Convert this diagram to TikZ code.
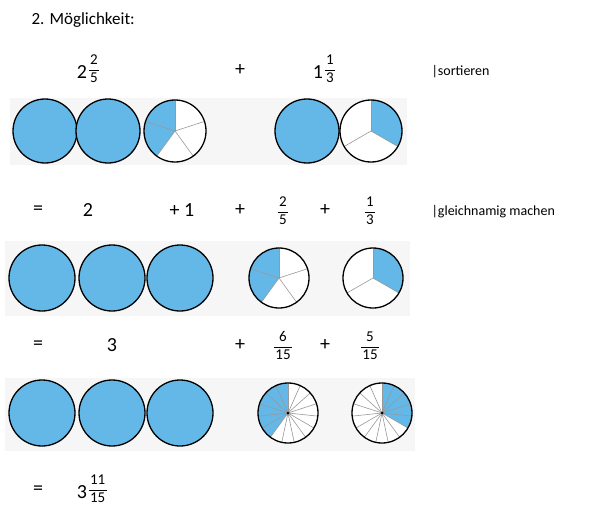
\documentclass[tikz,border=0pt]{standalone}
\usepackage{fontspec}
\setmainfont{Carlito}
\definecolor{pieblue}{HTML}{63B8E8}
\definecolor{band}{HTML}{F6F6F6}
\newcommand{\fullc}[3]{\fill[pieblue] (#1,#2) circle (#3);\draw[line width=1.3pt] (#1,#2) circle (#3);}
\newcommand{\fr}[2]{$\vcenter{\hbox{\setlength{\tabcolsep}{1.5pt}\renewcommand{\arraystretch}{1.05}\begin{tabular}{c}#1\\\hline #2\end{tabular}}}$}
% pie: x y r n k dir(1=visual ccw / left, -1=visual cw / right)
\newcommand{\mypie}[6]{%
  \fill[white] (#1,#2) circle (#3);
  \pgfmathsetmacro{\st}{360/#4}
  \pgfmathsetmacro{\en}{-90-#6*#5*\st}
  \fill[pieblue] (#1,#2) -- ++(-90:#3) arc[start angle=-90,end angle=\en,radius=#3] -- cycle;
  \foreach \i in {1,...,#4}{\draw[gray!80,line width=0.6pt] (#1,#2) -- ++({-90+\i*\st}:#3);}
  \draw[line width=1.3pt] (#1,#2) circle (#3);}
\begin{document}
\begin{tikzpicture}[x=1pt,y=-1pt,
  txt/.style={font=\fontsize{20}{24}\selectfont},
  frs/.style={font=\fontsize{15}{17}\selectfont},
  sm/.style={font=\fontsize{14}{16}\selectfont}]
\useasboundingbox (0,0) rectangle (600,527);
\fill[band] (10,98) rectangle (407,165);
\fill[band] (5,241) rectangle (410,316);
\fill[band] (5,378) rectangle (415,451);
\node[font=\fontsize{17}{20}\selectfont,anchor=west] (title) at (28,20) {2. Möglichkeit:};
% row 1
\node[txt] (a1) at (82,72) {2};
\node[frs,anchor=west] (a1f) at (85,70) {\fr{2}{5}};
\node[txt] (p1) at (240,70) {+};
\node[txt] (b1) at (318,72) {1};
\node[frs,anchor=west] (b1f) at (321,70) {\fr{1}{3}};
\node[sm,anchor=west] (s1) at (428,72) {|sortieren};
\fullc{45}{131}{32}\fullc{108}{131}{32}\mypie{175}{131}{31}{5}{2}{1}
\fullc{307}{131}{32}\mypie{371}{131}{31}{3}{1}{-1}
% row 2
\node[txt] (e2) at (38,210) {=};
\node[txt] (t2) at (88,210) {2};
\node[txt] (o2) at (182,210) {+ 1};
\node[txt] (p2) at (240,210) {+};
\node[frs] (f2) at (283,212) {\fr{2}{5}};
\node[txt] (q2) at (325,210) {+};
\node[frs] (g2) at (370,212) {\fr{1}{3}};
\node[sm,anchor=west] (s2) at (428,212) {|gleichnamig machen};
\fullc{42}{278}{33}\fullc{112}{278}{33}\fullc{180}{278}{33}
\mypie{279}{278}{30}{5}{2}{1}\mypie{373}{278}{30}{3}{1}{-1}
% row 3
\node[txt] (e3) at (38,345) {=};
\node[txt] (t3) at (112,345) {3};
\node[txt] (p3) at (240,345) {+};
\node[frs] (f3) at (283,347) {\fr{6}{15}};
\node[txt] (q3) at (325,345) {+};
\node[frs] (g3) at (370,347) {\fr{5}{15}};
\fullc{42}{413}{33}\fullc{112}{413}{33}\fullc{180}{413}{33}
\mypie{288}{413}{30}{15}{6}{1}\mypie{382}{413}{30}{15}{5}{-1}
\fill (288,413) circle (1.5);\fill (382,413) circle (1.5);
% row 4
\node[txt] (e4) at (38,490) {=};
\node[txt] (r4) at (82,492) {3};
\node[frs,anchor=west] (r4f) at (85,490) {\fr{11}{15}};
\end{tikzpicture}
\end{document}
